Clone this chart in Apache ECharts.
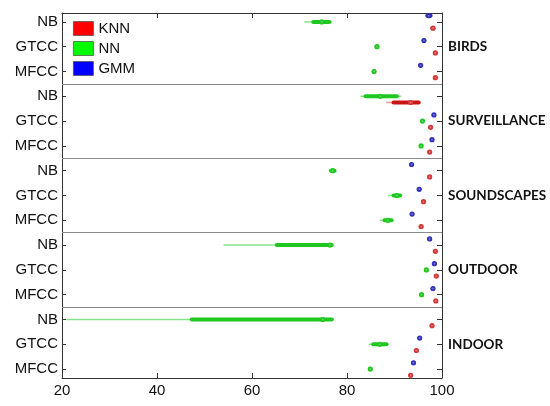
<!DOCTYPE html>
<html>
<head>
<meta charset="utf-8">
<script src="https://cdn.jsdelivr.net/npm/echarts@6/dist/echarts.min.js"></script>
<style>
  body { margin: 0; background: #fff; }
  #main { width: 550px; height: 406px; }
</style>
</head>
<body>
<div id="main"></div>
<script>
const datasets = ['BIRDS', 'SURVEILLANCE', 'SOUNDSCAPES', 'OUTDOOR', 'INDOOR'];
const features = ['NB', 'GTCC', 'MFCC'];
const xTicks = [20, 40, 60, 80, 100];

// per row (dataset x feature): [low whisker, q1, median, q3, high whisker]
const knn = [
  [97.9, 98.0, 98.1, 98.2, 98.3],
  [98.5, 98.55, 98.6, 98.65, 98.7],
  [98.5, 98.55, 98.6, 98.65, 98.7],
  [88.3, 89.8, 93.4, 95.1, 95.3],
  [97.5, 97.55, 97.6, 97.65, 97.7],
  [97.3, 97.35, 97.4, 97.45, 97.5],
  [97.3, 97.35, 97.4, 97.45, 97.5],
  [96.0, 96.05, 96.1, 96.15, 96.2],
  [95.5, 95.55, 95.6, 95.65, 95.7],
  [98.5, 98.55, 98.6, 98.65, 98.7],
  [98.7, 98.75, 98.8, 98.85, 98.9],
  [98.6, 98.65, 98.7, 98.75, 98.8],
  [97.8, 97.85, 97.9, 97.95, 98.0],
  [94.5, 94.55, 94.6, 94.65, 94.7],
  [93.3, 93.35, 93.4, 93.45, 93.5]
];
const nn = [
  [71.0, 72.9, 74.7, 76.3, 76.8],
  [86.2, 86.25, 86.3, 86.35, 86.4],
  [85.6, 85.65, 85.7, 85.75, 85.8],
  [82.8, 83.9, 87.0, 90.5, 91.4],
  [95.8, 95.85, 95.9, 95.95, 96.0],
  [95.5, 95.55, 95.6, 95.65, 95.7],
  [76.5, 76.6, 77.0, 77.4, 77.5],
  [88.6, 89.8, 90.5, 91.2, 91.3],
  [86.9, 87.9, 88.6, 89.4, 89.4],
  [54.0, 65.2, 76.4, 76.8, 77.0],
  [96.6, 96.65, 96.7, 96.75, 96.8],
  [95.6, 95.65, 95.7, 95.75, 95.8],
  [20.9, 47.3, 74.9, 76.8, 77.2],
  [84.6, 85.5, 86.9, 88.3, 88.8],
  [84.8, 84.85, 84.9, 84.95, 85.0]
];
const gmm = [
  [96.8, 96.9, 97.2, 97.6, 97.8],
  [96.1, 96.15, 96.2, 96.25, 96.3],
  [95.4, 95.45, 95.5, 95.55, 95.6],
  null,
  [98.2, 98.25, 98.3, 98.35, 98.4],
  [97.8, 97.85, 97.9, 97.95, 98.0],
  [93.5, 93.55, 93.6, 93.65, 93.7],
  [95.1, 95.15, 95.2, 95.25, 95.3],
  [93.6, 93.65, 93.7, 93.75, 93.8],
  [97.3, 97.35, 97.4, 97.45, 97.5],
  [98.3, 98.35, 98.4, 98.45, 98.5],
  [98.0, 98.05, 98.1, 98.15, 98.2],
  null,
  [95.2, 95.25, 95.3, 95.35, 95.4],
  [93.9, 93.95, 94.0, 94.05, 94.1]
];

const rowValues = [];
for (let i = 1; i <= datasets.length * features.length; i++) rowValues.push(i);
const panelCenters = datasets.map((d, i) => i * 3 + 2);
const separators = datasets.slice(1).map((d, i) => ({ yAxis: (i + 1) * 3 + 0.5 }));

function toData(arr, offset) {
  const out = [];
  arr.forEach((r, i) => {
    if (r) out.push([i + 1 + offset].concat(r));
  });
  return out;
}

function boxRenderer(boxColor, whiskerColor, dotColor) {
  return function (params, api) {
    const y = api.value(0);
    const lo = api.coord([api.value(1), y]);
    const q1 = api.coord([api.value(2), y]);
    const md = api.coord([api.value(3), y]);
    const q3 = api.coord([api.value(4), y]);
    const hi = api.coord([api.value(5), y]);
    return {
      type: 'group',
      children: [
        { type: 'line', shape: { x1: lo[0], y1: lo[1], x2: hi[0], y2: hi[1] },
          style: { stroke: whiskerColor, lineWidth: 1.5 } },
        { type: 'line', shape: { x1: q1[0], y1: q1[1], x2: q3[0], y2: q3[1] },
          style: { stroke: boxColor, lineWidth: 4, lineCap: 'round' } },
        { type: 'circle', shape: { cx: md[0], cy: md[1], r: 2.6 },
          style: { fill: dotColor } },
        { type: 'circle', shape: { cx: md[0], cy: md[1], r: 0.8 },
          style: { fill: 'rgba(255,255,255,0.4)' } }
      ]
    };
  };
}

const myChart = echarts.init(document.getElementById('main'));

const axisLineStyle = { color: '#333', width: 1 };

myChart.setOption({
  animation: false,
  grid: { left: 62, right: 108, top: 13, bottom: 28 },
  legend: {
    data: ['KNN', 'NN', 'GMM'],
    orient: 'vertical',
    left: 68,
    top: 16,
    itemWidth: 20,
    itemHeight: 14,
    itemGap: 5,
    icon: 'rect',
    itemStyle: { borderColor: '#555', borderWidth: 0.8 },
    textStyle: { fontFamily: 'Liberation Sans, Arial', fontSize: 15, color: '#111' }
  },
  xAxis: [
    {
      type: 'value', min: 20, max: 100, interval: 20, position: 'bottom',
      axisLine: { lineStyle: axisLineStyle },
      axisTick: { inside: true, length: 5, lineStyle: axisLineStyle },
      splitLine: { show: false },
      axisLabel: { fontFamily: 'Liberation Sans, Arial', fontSize: 15, color: '#111', margin: 5,
        customValues: xTicks }
    },
    {
      type: 'value', min: 20, max: 100, interval: 20, position: 'top',
      axisLine: { show: true, lineStyle: axisLineStyle },
      axisTick: { inside: true, length: 5, lineStyle: axisLineStyle },
      splitLine: { show: false },
      axisLabel: { show: false }
    }
  ],
  yAxis: [
    {
      type: 'value', min: 0.64, max: 15.36, inverse: true, position: 'left',
      axisLine: { show: true, lineStyle: axisLineStyle },
      axisTick: { show: true, inside: true, length: 4, lineStyle: axisLineStyle, customValues: rowValues },
      splitLine: { show: false },
      axisLabel: {
        customValues: rowValues, margin: 4,
        fontFamily: 'Liberation Sans, Arial', fontSize: 15, color: '#111',
        formatter: v => features[(Math.round(v) - 1) % 3]
      }
    },
    {
      type: 'value', min: 0.64, max: 15.36, inverse: true, position: 'right',
      axisLine: { show: true, lineStyle: axisLineStyle },
      axisTick: { show: true, inside: true, length: 5, lineStyle: axisLineStyle, customValues: rowValues },
      splitLine: { show: false },
      axisLabel: {
        customValues: panelCenters, margin: 6,
        fontFamily: 'Lato', fontWeight: 'bold', fontSize: 13.5, color: '#111',
        formatter: v => datasets[(Math.round(v) - 2) / 3]
      }
    }
  ],
  series: [
    {
      name: 'KNN', type: 'custom', itemStyle: { color: '#ff0000' },
      encode: { x: [1, 2, 3, 4, 5], y: 0 },
      renderItem: boxRenderer('#c81414', '#e89090', '#d43a3a'),
      data: toData(knn, 0.25),
      markLine: {
        silent: true, symbol: ['none', 'none'], label: { show: false },
        lineStyle: { color: '#8a8a8a', width: 1.2, type: 'solid' },
        data: separators
      },
      z: 3
    },
    {
      name: 'NN', type: 'custom', itemStyle: { color: '#00ff00' },
      encode: { x: [1, 2, 3, 4, 5], y: 0 },
      renderItem: boxRenderer('#1ec81e', '#8ae28a', '#22c822'),
      data: toData(nn, 0),
      z: 3
    },
    {
      name: 'GMM', type: 'custom', itemStyle: { color: '#0000ff' },
      encode: { x: [1, 2, 3, 4, 5], y: 0 },
      renderItem: boxRenderer('#2222c0', '#8a8ae0', '#3434b8'),
      data: toData(gmm, -0.25),
      z: 3
    }
  ]
});
</script>
</body>
</html>
